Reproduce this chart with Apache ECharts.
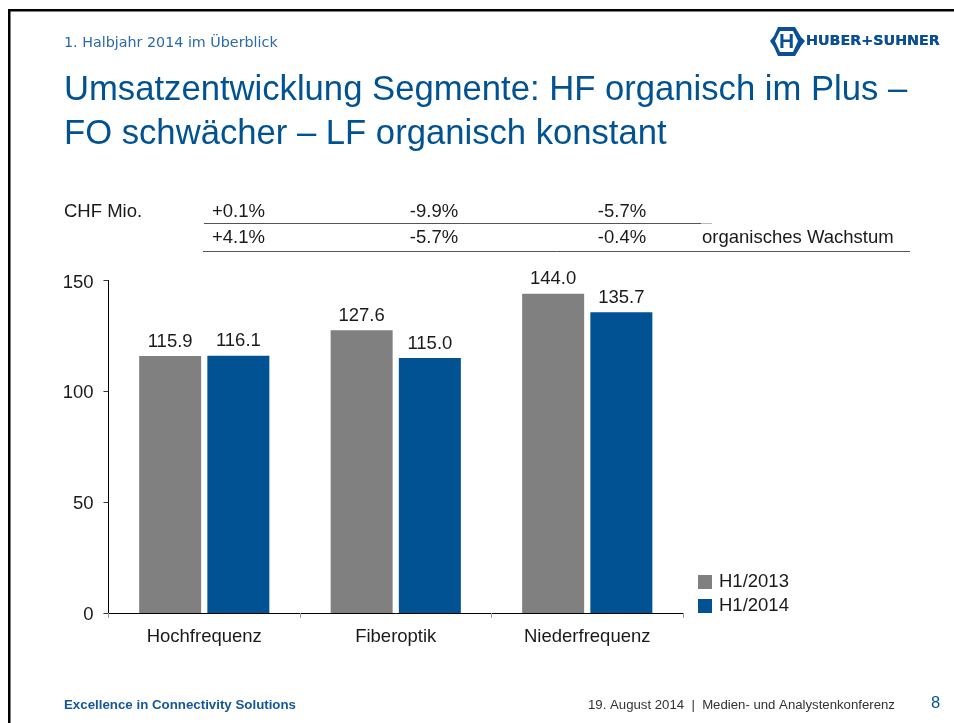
<!DOCTYPE html>
<html><head><meta charset="utf-8">
<style>html,body{margin:0;padding:0;background:#fff}#c{width:954px;height:723px}</style>
<script src="https://cdn.jsdelivr.net/npm/echarts@6/dist/echarts.min.js"></script>
</head><body><div id="c"></div>
<script>
const categories = ['Hochfrequenz','Fiberoptik','Niederfrequenz'];
const h12013 = [115.9,127.6,144.0];
const h12014 = [116.1,115.0,135.7];
const reported = ['+0.1%','-9.9%','-5.7%'];
const organic = ['+4.1%','-5.7%','-0.4%'];
const yTicks = [0,50,100,150];
const BLUE='#005293', GREY='#808080', TXT='#1a1a1a', F='"Liberation Sans",Arial,sans-serif';
const chart = echarts.init(document.getElementById('c'),null,{renderer:'canvas'});
const t=(x,y,text,font,fill,align)=>({type:'text',x,y,silent:true,style:{text,font,fill:fill||TXT,textAlign:align||'left',textVerticalAlign:'middle'}});
const l=(x1,y1,x2,y2,stroke,w)=>({type:'line',silent:true,shape:{x1,y1,x2,y2},style:{stroke,lineWidth:w||1}});
const FS=18.5, f14=FS+'px '+F;
const rateX=[238.5,434,622];
const LOGO='#0a4f96';
const gfx=[
 {type:'rect',shape:{x:8,y:9,width:946,height:2.5},style:{fill:'#000'}},
 {type:'rect',shape:{x:8,y:9,width:2.5,height:714},style:{fill:'#000'}},
 t(64,43.5,'1. Halbjahr 2014 im Überblick','14.3px "DejaVu Sans",Verdana,sans-serif','#2a6aa8'),
 t(64,90.5,'Umsatzentwicklung Segmente: HF organisch im Plus –','34.65px '+F,BLUE),
 t(64,134,'FO schwächer – LF organisch konstant','34.65px '+F,BLUE),
 t(64,211.5,'CHF Mio.',f14),
 l(204,223.5,701,223.5,'#555'),l(701,223.5,712,223.5,'#bbb'),
 l(203,251.5,910,251.5,'#555'),
 t(702,238,'organisches Wachstum',f14),
 ...reported.map((s,i)=>t(rateX[i],212,s,f14,TXT,'center')),
 ...organic.map((s,i)=>t(rateX[i],238,s,f14,TXT,'center')),
 // logo
 {type:'polygon',silent:true,shape:{points:[[778,27],[795,27],[801,37],[805,41],[801,46],[795,56],[778,56],[774,47],[770,41],[774,36]]},style:{fill:LOGO}},
 {type:'polygon',silent:true,shape:{points:[[780,31],[793,31],[798,41],[793,52],[780,52],[775,41]]},style:{fill:'#fff'}},
 t(786.5,42,'H','bold 21px '+F,LOGO,'center'),
 t(806,41.5,'HUBER+SUHNER','bold 14.3px "DejaVu Sans",sans-serif',LOGO),
 t(806,41.5,'HUBER+SUHNER','bold 14.3px "DejaVu Sans",sans-serif',LOGO),
 // footer
 t(64,705.5,'Excellence in Connectivity Solutions','bold 13.3px '+F,'#14589b'),
 t(588,705.5,'19. August 2014  |  Medien- und Analystenkonferenz','13.2px '+F,'#333'),
 t(931,703.5,'8','16.5px '+F,BLUE),
];
const lab={show:true,position:'top',distance:5,color:TXT,fontFamily:F,fontSize:FS,formatter:p=>p.value.toFixed(1)};
chart.setOption({
 animation:false,
 graphic:{elements:gfx},
 grid:{left:108.5,top:280.5,width:574.5,height:332.5,containLabel:false},
 legend:{orient:'vertical',left:698,top:572.5,itemWidth:14,itemHeight:14,itemGap:5,icon:'rect',
   textStyle:{color:TXT,fontFamily:F,fontSize:FS,padding:[2,0,0,2]},itemStyle:{borderWidth:0},padding:0,
   data:['H1/2013','H1/2014']},
 xAxis:{type:'category',data:categories,
   axisLine:{show:true,lineStyle:{color:'#000',width:1}},
   axisTick:{show:true,length:5,alignWithLabel:false,lineStyle:{color:'#999'}},
   axisLabel:{color:TXT,fontFamily:F,fontSize:FS,margin:14}},
 yAxis:{type:'value',min:yTicks[0],max:yTicks[3],interval:50,
   splitLine:{show:false},
   axisLine:{show:true,lineStyle:{color:'#000',width:1}},
   axisTick:{show:true,length:5,lineStyle:{color:'#333'}},
   axisLabel:{color:TXT,fontFamily:F,fontSize:FS,margin:15,formatter:'{v|{value}}',rich:{v:{color:TXT,fontFamily:F,fontSize:FS,padding:[4,0,0,0]}}}},
 series:[
  {name:'H1/2013',type:'bar',data:h12013,barWidth:62,barGap:'10%',itemStyle:{color:GREY},label:lab},
  {name:'H1/2014',type:'bar',data:h12014,barWidth:62,itemStyle:{color:BLUE},label:lab}
 ]
});
</script></body></html>
